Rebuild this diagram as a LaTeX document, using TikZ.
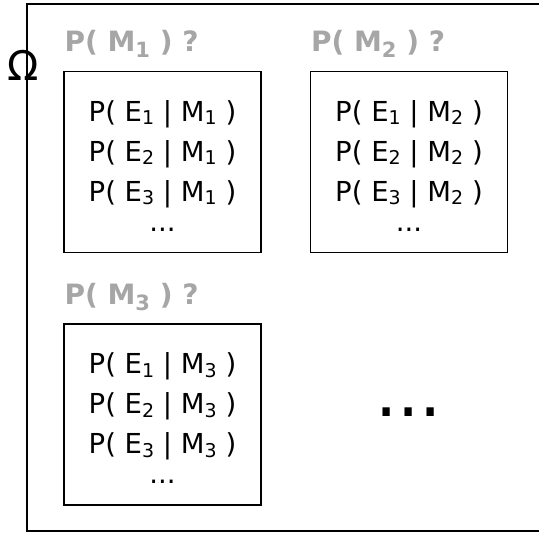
\documentclass[tikz,border=0pt]{standalone}
\usepackage{fontspec}
\setmainfont{DejaVu Sans}
\usepackage{xcolor}
\usepackage{tikz}
\usetikzlibrary{calc,positioning}
\definecolor{labelgray}{RGB}{166,166,166}
\newcommand{\sbs}[1]{\raisebox{-3.5pt}{\fontsize{19}{19}\selectfont #1}}
\newcommand{\sbb}[1]{\raisebox{-6pt}{\fontsize{21}{21}\selectfont\bfseries #1}}

\begin{document}
\begin{tikzpicture}[x=1pt,y=-1pt,
		modelbox/.style={draw,line width=1.3pt,minimum width=197pt,minimum height=181pt,inner sep=0pt},
		probs/.style={align=center,inner sep=0pt,font=\fontsize{27.5}{40}\selectfont},
		question/.style={anchor=base west,inner sep=0pt,text=labelgray,font=\fontsize{28}{28}\selectfont\bfseries}]
			\useasboundingbox (0,0) rectangle (539,533);
			\draw[line width=1.3pt] (27,4) rectangle (545,531);
			\node[anchor=base,inner sep=0pt,font=\fontsize{41}{41}\selectfont] (omega) at (23,80) {Ω};

			\node[modelbox] (model1) at (162.5,162) {};
			\node[modelbox] (model2) at (409,162) {};
			\node[modelbox] (model3) at (162.5,414.5) {};

			\node[question] (q1) at ($(model1.north west)+(1,-19)$) {P( M\sbb{1} ) ?};
			\node[question] (q2) at ($(model2.north west)+(1,-19)$) {P( M\sbb{2} ) ?};
			\node[question] (q3) at ($(model3.north west)+(1,-19)$) {P( M\sbb{3} ) ?};

			\node[probs,below=29pt of model1.north] (probs1)
			{
				P( E\sbs{1} | M\sbs{1} )\\
				P( E\sbs{2} | M\sbs{1} )\\
				P( E\sbs{3} | M\sbs{1} )\\[-10pt]
				...
			};
			\node[probs,below=29pt of model2.north] (probs2)
			{
				P( E\sbs{1} | M\sbs{2} )\\
				P( E\sbs{2} | M\sbs{2} )\\
				P( E\sbs{3} | M\sbs{2} )\\[-10pt]
				...
			};
			\node[probs,below=29pt of model3.north] (probs3)
			{
				P( E\sbs{1} | M\sbs{3} )\\
				P( E\sbs{2} | M\sbs{3} )\\
				P( E\sbs{3} | M\sbs{3} )\\[-10pt]
				...
			};

			\node[anchor=base,inner sep=0pt,font=\fontsize{70}{70}\selectfont] (more) at (408.5,416) {...};
		\end{tikzpicture}
\end{document}
